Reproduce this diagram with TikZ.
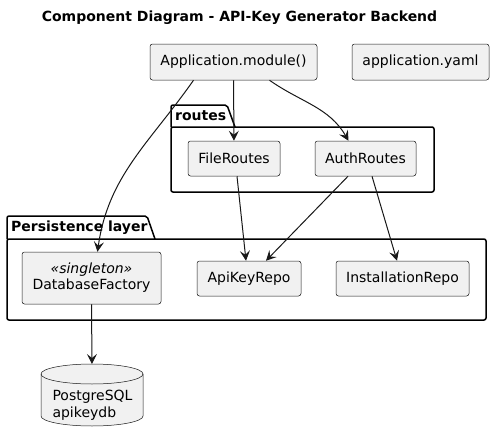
\documentclass[tikz,border=0pt]{standalone}
\usepackage{fontspec}
\setmainfont{DejaVu Sans}
\usetikzlibrary{arrows.meta}
\definecolor{boxfill}{HTML}{F1F1F1}
\definecolor{ink}{HTML}{181818}
\tikzset{
  comp/.style={draw=ink, fill=boxfill, line width=0.5pt, rounded corners=2.5pt,
    inner sep=0pt, align=center, font=\fontsize{14pt}{16pt}\selectfont},
  pkg/.style={draw=black, line width=1.5pt, rounded corners=2pt},
  pkglabel/.style={anchor=west, inner sep=0pt, font=\bfseries\fontsize{14pt}{16pt}\selectfont},
  dbshape/.style={draw=ink, fill=boxfill, line width=0.5pt},
  dep/.style={draw=ink, line width=1pt, -{Stealth[length=10pt,width=10pt,inset=4pt]}}
}
\begin{document}
\begin{tikzpicture}[x=1pt,y=-1pt]
  \useasboundingbox (0,0) rectangle (493,442);

  % title
  \node (title) [font=\bfseries\fontsize{14pt}{16pt}\selectfont] at (239.5,18)
    {Component Diagram - API-Key Generator Backend};

  % routes package
  \draw[pkg] (171,127) -- (171,105) -- (227,105) -- (235,127);
  \draw[pkg] (171,127) rectangle (434,192);
  \node (routeslbl) [pkglabel] at (175,116) {routes};
  % persistence package
  \draw[pkg] (7,239) -- (7,216) -- (147,216) -- (155,239);
  \draw[pkg] (7,239) rectangle (486,320);
  \node (persistlbl) [pkglabel] at (11,228) {Persistence layer};

  % top level boxes
  \node (app) [comp, minimum width=167pt, minimum height=36pt] at (233.5,62) {Application.module()};
  \node (yaml) [comp, minimum width=137pt, minimum height=36pt] at (420.5,62) {application.yaml};
  % routes
  \node (fr) [comp, minimum width=92pt, minimum height=35pt] at (234,158.5) {FileRoutes};
  \node (ar) [comp, minimum width=101pt, minimum height=35pt] at (365.5,158.5) {AuthRoutes};
  % persistence
  \node (df) [comp, minimum width=139pt, minimum height=52pt] at (91.5,278)
    {{\itshape «singleton»}\\DatabaseFactory};
  \node (akr) [comp, minimum width=104pt, minimum height=35pt] at (249,278.5) {ApiKeyRepo};
  \node (ir) [comp, minimum width=133pt, minimum height=35pt] at (402.5,278.5) {InstallationRepo};

  % database cylinder
  \draw[dbshape] (41,374) -- (41,416)
    arc[start angle=180, end angle=360, x radius=51pt, y radius=10pt] -- (143,374)
    arc[start angle=0, end angle=180, x radius=51pt, y radius=10pt] -- cycle;
  \draw[dbshape, fill=none] (41,374) arc[start angle=180, end angle=360, x radius=51pt, y radius=10pt];
  \coordinate (dbtop) at (92,364);
  \node (db) [inner sep=0pt, align=left, font=\fontsize{14pt}{17pt}\selectfont] at (92.5,405)
    {PostgreSQL\\apikeydb};

  % dependencies
  \draw[dep] (app) -- (fr);
  \draw[dep] ([xshift=36pt]app.south) to[out=-35, in=120] ([xshift=-17pt]ar.north);
  \draw[dep] ([xshift=-40pt]app.south) to[out=-125, in=82] ([xshift=6pt]df.north);
  \draw[dep] ([xshift=3pt]fr.south) -- ([xshift=-3pt]akr.north);
  \draw[dep] ([xshift=-17.5pt]ar.south) -- ([xshift=17pt]akr.north);
  \draw[dep] ([xshift=6.5pt]ar.south) -- ([xshift=-5.5pt]ir.north);
  \draw[dep] (df.south) -- (dbtop);

\end{tikzpicture}
\end{document}
